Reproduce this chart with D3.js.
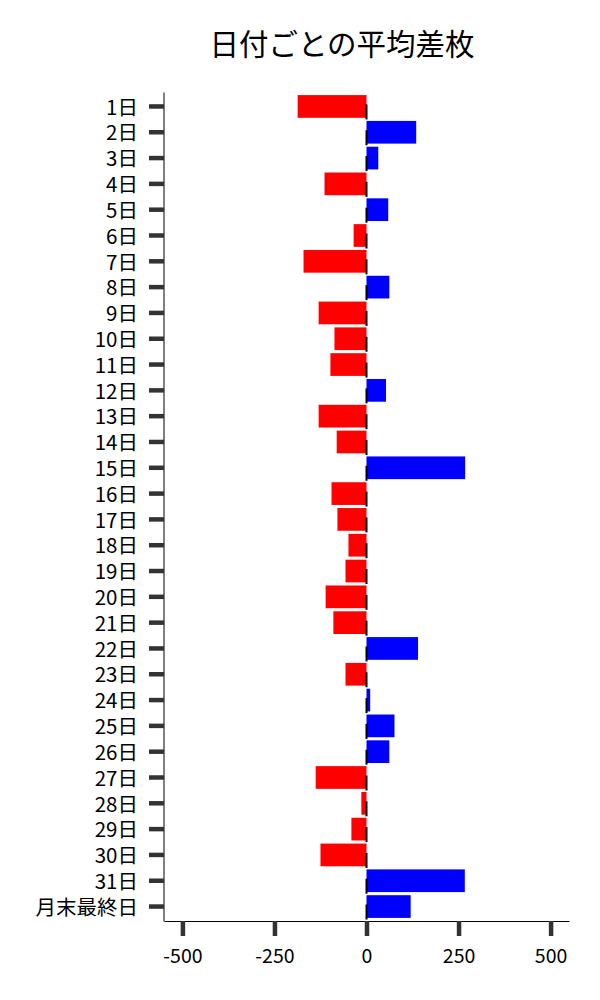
<!DOCTYPE html>
<html>
<head>
<meta charset="utf-8">
<script src="https://cdn.jsdelivr.net/npm/d3@7"></script>
<style>
body { margin: 0; background: #fff; }
text { font-family: "Noto Sans CJK JP", "Noto Sans", sans-serif; font-weight: 400; }
</style>
</head>
<body>
<svg width="600" height="1000"></svg>
<script>
var days = ["1日","2日","3日","4日","5日","6日","7日","8日","9日","10日",
  "11日","12日","13日","14日","15日","16日","17日","18日","19日","20日",
  "21日","22日","23日","24日","25日","26日","27日","28日","29日","30日",
  "31日","月末最終日"];
var diffs = [-187, 135, 32, -114, 59, -35, -171, 62, -130, -87,
  -98, 53, -130, -81, 268, -95, -79, -49, -57, -111,
  -90, 140, -57, 10, 76, 62, -138, -14, -41, -125,
  267, 120];
var xTicks = [-500, -250, 0, 250, 500];

var svg = d3.select("svg"),
    mLeft = 164, mRight = 569, mTop = 92, mBottom = 921;

var x = d3.scaleLinear().domain([-550, 550]).range([mLeft, mRight]);
var y = d3.scaleBand().domain(days).range([mTop, mBottom]).padding(0.12);

svg.append("text")
  .attr("x", 342)
  .attr("y", 55)
  .attr("text-anchor", "middle")
  .style("font-size", "29.5px")
  .text("日付ごとの平均差枚");

svg.append("g")
  .selectAll("rect")
  .data(diffs)
  .enter()
  .append("rect")
    .attr("x", function(d) { return x(Math.min(0, d)); })
    .attr("y", function(d, i) { return y(days[i]); })
    .attr("width", function(d) { return Math.abs(x(d) - x(0)); })
    .attr("height", y.bandwidth())
    .attr("fill", function(d) { return d < 0 ? "#ff0000" : "#0000ff"; });

// little black marks at zero
svg.append("g")
  .selectAll("line")
  .data(days)
  .enter()
  .append("line")
    .attr("x1", x(0)).attr("x2", x(0))
    .attr("y1", function(d) { return y(d) + y.bandwidth() / 2 - 2; })
    .attr("y2", function(d) { return y(d) + y.bandwidth() / 2 + 13; })
    .attr("stroke", "#000")
    .attr("stroke-width", 2);

var yAxis = svg.append("g")
  .attr("transform", "translate(" + mLeft + ",0)")
  .call(d3.axisLeft(y).tickSize(15).tickPadding(11).tickSizeOuter(0));
yAxis.select(".domain").attr("d", "M0," + (mTop + 0.5) + "V" + (mBottom + 0.5)).attr("stroke", "#000");
yAxis.selectAll(".tick line").attr("stroke", "#333").attr("stroke-width", 4.5);
yAxis.selectAll(".tick text").style("font-size", "20.5px").attr("dy", "0.4em").attr("fill", "#000");

var xAxis = svg.append("g")
  .attr("transform", "translate(0," + mBottom + ")")
  .call(d3.axisBottom(x).tickValues(xTicks).tickSize(15).tickPadding(13).tickSizeOuter(0)
    .tickFormat(function(d) { return String(d); }));
xAxis.select(".domain").attr("stroke", "#000");
xAxis.selectAll(".tick line").attr("stroke", "#333").attr("stroke-width", 4.5);
xAxis.selectAll(".tick text").style("font-size", "19.5px").attr("fill", "#000");
</script>
</body>
</html>
